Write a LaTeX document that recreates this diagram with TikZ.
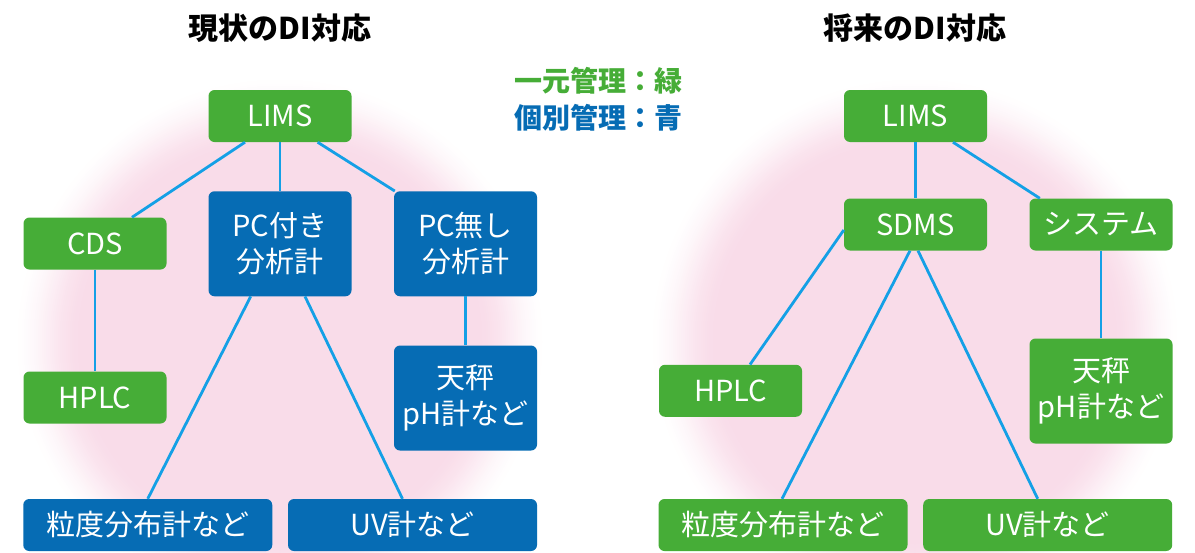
\documentclass[tikz,border=0pt]{standalone}
\usepackage{fontspec}
\setmainfont{Noto Sans CJK JP}
\definecolor{grn}{RGB}{70,173,55}
\definecolor{blu}{RGB}{6,108,180}
\definecolor{lnk}{RGB}{20,160,230}
\definecolor{pk}{RGB}{249,220,233}
\tikzset{
  box/.style={rounded corners=6pt, text=white, font=\fontsize{29}{36}\selectfont, align=center, inner sep=0pt, minimum width=143pt, minimum height=52pt},
  gbox/.style={box, fill=grn},
  bbox/.style={box, fill=blu},
  tall/.style={minimum height=105pt},
  wide/.style={minimum width=249pt},
  link/.style={draw=lnk, line width=2.8pt},
  ttl/.style={font=\fontsize{30}{34}\selectfont\bfseries, text=black, inner sep=0pt},
  leg/.style={font=\fontsize{28}{32}\selectfont\bfseries, inner sep=0pt, anchor=west}
}
\begin{document}
\begin{tikzpicture}[x=1pt,y=-1pt]
\useasboundingbox (0,0) rectangle (1195,552);
\fill[white] (0,0) rectangle (1195,552);
\foreach \i in {0,...,35}{
  \pgfmathsetmacro\rr{268-2*\i}
  \pgfmathsetmacro\ss{\i/35}
  \pgfmathsetmacro\tt{100*\ss*\ss*(3-2*\ss)}
  \fill[pk!\tt!white] (280,342) circle (\rr);
  \fill[pk!\tt!white] (915,342) circle (\rr);
}
% titles and legend
\node[ttl] (t1) at (280,28) {現状のDI対応};
\node[ttl] (t2) at (915,28) {将来のDI対応};
\node[leg, text=grn] (l1) at (514,81) {一元管理：緑};
\node[leg, text=blu] (l2) at (514,117.5) {個別管理：青};
% left tree
\node[gbox] (limsL) at (280,116) {LIMS};
\node[gbox] (cds) at (95,243.5) {CDS};
\node[gbox] (hplcL) at (95,397.5) {HPLC};
\node[bbox, tall] (pcy) at (280,243.75) {PC付き\\分析計};
\node[bbox, tall] (pcn) at (465.5,243.75) {PC無し\\分析計};
\node[bbox, tall] (balL) at (465.5,398) {天秤\\pH計など};
\node[bbox, wide] (psdL) at (147.75,525) {粒度分布計など};
\node[bbox, wide] (uvL) at (412.5,525) {UV計など};
% right tree
\node[gbox] (limsR) at (915.5,116) {LIMS};
\node[gbox] (sdms) at (915.5,224.5) {SDMS};
\node[gbox] (sys) at (1101,224.5) {システム};
\node[gbox] (hplcR) at (730.5,390.75) {HPLC};
\node[gbox, tall] (balR) at (1101,391) {天秤\\pH計など};
\node[gbox, wide] (psdR) at (783,525) {粒度分布計など};
\node[gbox, wide] (uvR) at (1047.7,525) {UV計など};
% left links
\draw[link] ([xshift=-35pt]limsL.south) -- ([xshift=37pt]cds.north);
\draw[link] (limsL.south) -- (pcy.north);
\draw[link] ([xshift=37.6pt]limsL.south) -- ([xshift=1pt]pcn.north west);
\draw[link] (cds.south) -- (hplcL.north);
\draw[link] ([xshift=-29.3pt]pcy.south) -- (psdL.north);
\draw[link] ([xshift=25pt]pcy.south) -- ([xshift=-10pt]uvL.north);
\draw[link] (pcn.south) -- (balL.north);
% right links
\draw[link] (limsR.south) -- (sdms.north);
\draw[link] ([xshift=37.5pt]limsR.south) -- ([xshift=10.5pt]sys.north west);
\draw[link] ([yshift=-5.5pt]sdms.west) -- ([xshift=19.5pt]hplcR.north);
\draw[link] ([xshift=-5.5pt]sdms.south) -- ([xshift=-1pt]psdR.north);
\draw[link] ([xshift=2.5pt]sdms.south) -- ([xshift=-10pt]uvR.north);
\draw[link] (sys.south) -- (balR.north);
\end{tikzpicture}
\end{document}
